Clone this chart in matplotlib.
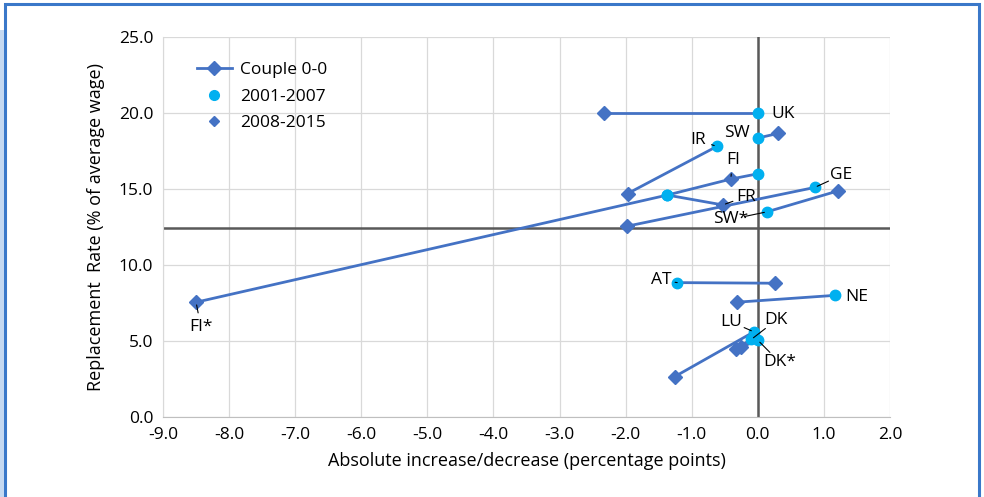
import matplotlib.pyplot as plt
from matplotlib.lines import Line2D
from matplotlib.patches import Rectangle

plt.rcParams["font.family"] = ["Open Sans", "DejaVu Sans"]

# one entry per country: 2001-2007 point (circle) and 2008-2015 point (diamond)
countries = ["UK", "SW", "IR", "FI", "FI*", "FR", "GE", "SW*", "AT", "NE", "LU", "DK", "DK*"]
x_0107 = [0.0, 0.0, -0.62, 0.0, -1.37, -1.37, 0.86, 0.14, -1.22, 1.16, -0.06, -0.10, 0.0]
y_0107 = [20.0, 18.35, 17.8, 16.0, 14.6, 14.6, 15.1, 13.5, 8.84, 8.0, 5.6, 5.1, 5.05]
x_0815 = [-2.33, 0.30, -1.97, -0.41, -8.5, -0.53, -1.98, 1.21, 0.26, -0.32, -1.26, -0.33, -0.25]
y_0815 = [20.0, 18.65, 14.7, 15.65, 7.55, 13.95, 12.55, 14.87, 8.8, 7.55, 2.65, 4.5, 4.6]

# label positions (data units)
label_x = [0.38, -0.32, -0.9, -0.38, -8.43, -0.18, 1.26, -0.41, -1.46, 1.5, -0.4, 0.28, 0.33]
label_y = [19.93, 18.68, 18.2, 16.9, 5.95, 14.5, 15.9, 13.0, 9.0, 7.9, 6.25, 6.38, 3.6]
# countries whose label gets a leader line, and which point it points at
leader_to = {"IR": "c", "FI": "d", "FI*": "d", "FR": "d", "GE": "c", "SW*": "c",
             "AT": "c", "LU": "c", "DK": "c", "DK*": "c"}

hline_y = 12.4

line_col = "#4472c4"
circle_col = "#00b0f0"

fig = plt.figure(figsize=(9.84, 4.97), dpi=100)
ax = fig.add_axes([0.1657, 0.161, 0.7388, 0.7646])

ax.axhline(hline_y, color="#595959", lw=1.8, zorder=1)
ax.axvline(0, color="#595959", lw=1.8, zorder=1)

for i in range(len(countries)):
    ax.plot([x_0107[i], x_0815[i]], [y_0107[i], y_0815[i]], color=line_col, lw=2, zorder=2)
# FI* line runs on up to the FI point
fi = countries.index("FI")
fis = countries.index("FI*")
ax.plot([x_0107[fis], x_0815[fi]], [y_0107[fis], y_0815[fi]], color=line_col, lw=2, zorder=2)

ax.plot(x_0815, y_0815, ls="none", marker="D", ms=7, color=line_col, zorder=3)
ax.plot(x_0107, y_0107, ls="none", marker="o", ms=7.5, color=circle_col, zorder=4)

for i, name in enumerate(countries):
    ax.text(label_x[i], label_y[i], name, fontsize=12.5, ha="center", va="center", zorder=5)
    if name in leader_to:
        if leader_to[name] == "c":
            px, py = x_0107[i], y_0107[i]
        else:
            px, py = x_0815[i], y_0815[i]
        ax.annotate("", xy=(px, py), xytext=(label_x[i], label_y[i]),
                    arrowprops=dict(arrowstyle="-", color="black", lw=0.8,
                                    shrinkA=10, shrinkB=2), zorder=5)

ax.set_xlim(-9, 2)
ax.set_ylim(0, 25)
ax.set_xticks([v for v in range(-9, 3)])
ax.set_xticklabels([f"{v:.1f}" for v in range(-9, 3)])
ax.set_yticks([0, 5, 10, 15, 20, 25])
ax.set_yticklabels([f"{v:.1f}" for v in [0, 5, 10, 15, 20, 25]])
ax.tick_params(length=0, labelsize=12.5, pad=7)
ax.grid(color="#d9d9d9", lw=0.9)
ax.set_axisbelow(True)
for s in ["top", "right"]:
    ax.spines[s].set_visible(False)
ax.spines["left"].set_color("#d9d9d9")
ax.spines["bottom"].set_color("#bfbfbf")

ax.set_xlabel("Absolute increase/decrease (percentage points)", fontsize=13, labelpad=7)
ax.set_ylabel("Replacement  Rate (% of average wage)", fontsize=13, labelpad=10)

handles = [
    Line2D([], [], color=line_col, lw=2, marker="D", ms=7),
    Line2D([], [], ls="none", marker="o", ms=7, color=circle_col),
    Line2D([], [], ls="none", marker="D", ms=5.5, color=line_col),
]
ax.legend(handles, ["Couple 0-0", "2001-2007", "2008-2015"], loc="upper left",
          bbox_to_anchor=(0.025, 0.975), frameon=False, fontsize=12.5, handlelength=2.0,
          handletextpad=0.5, labelspacing=0.6)

# blue frame round the figure
fig.patches.append(Rectangle((0.005, -0.1), 0.99, 1.092, transform=fig.transFigure,
                             fill=False, edgecolor="#3a78c9", lw=2.2))
fig.patches.append(Rectangle((0, 0), 0.004, 0.94, transform=fig.transFigure,
                             color="#c5d9f1", lw=0))

fig.savefig("out.png", dpi=100)
